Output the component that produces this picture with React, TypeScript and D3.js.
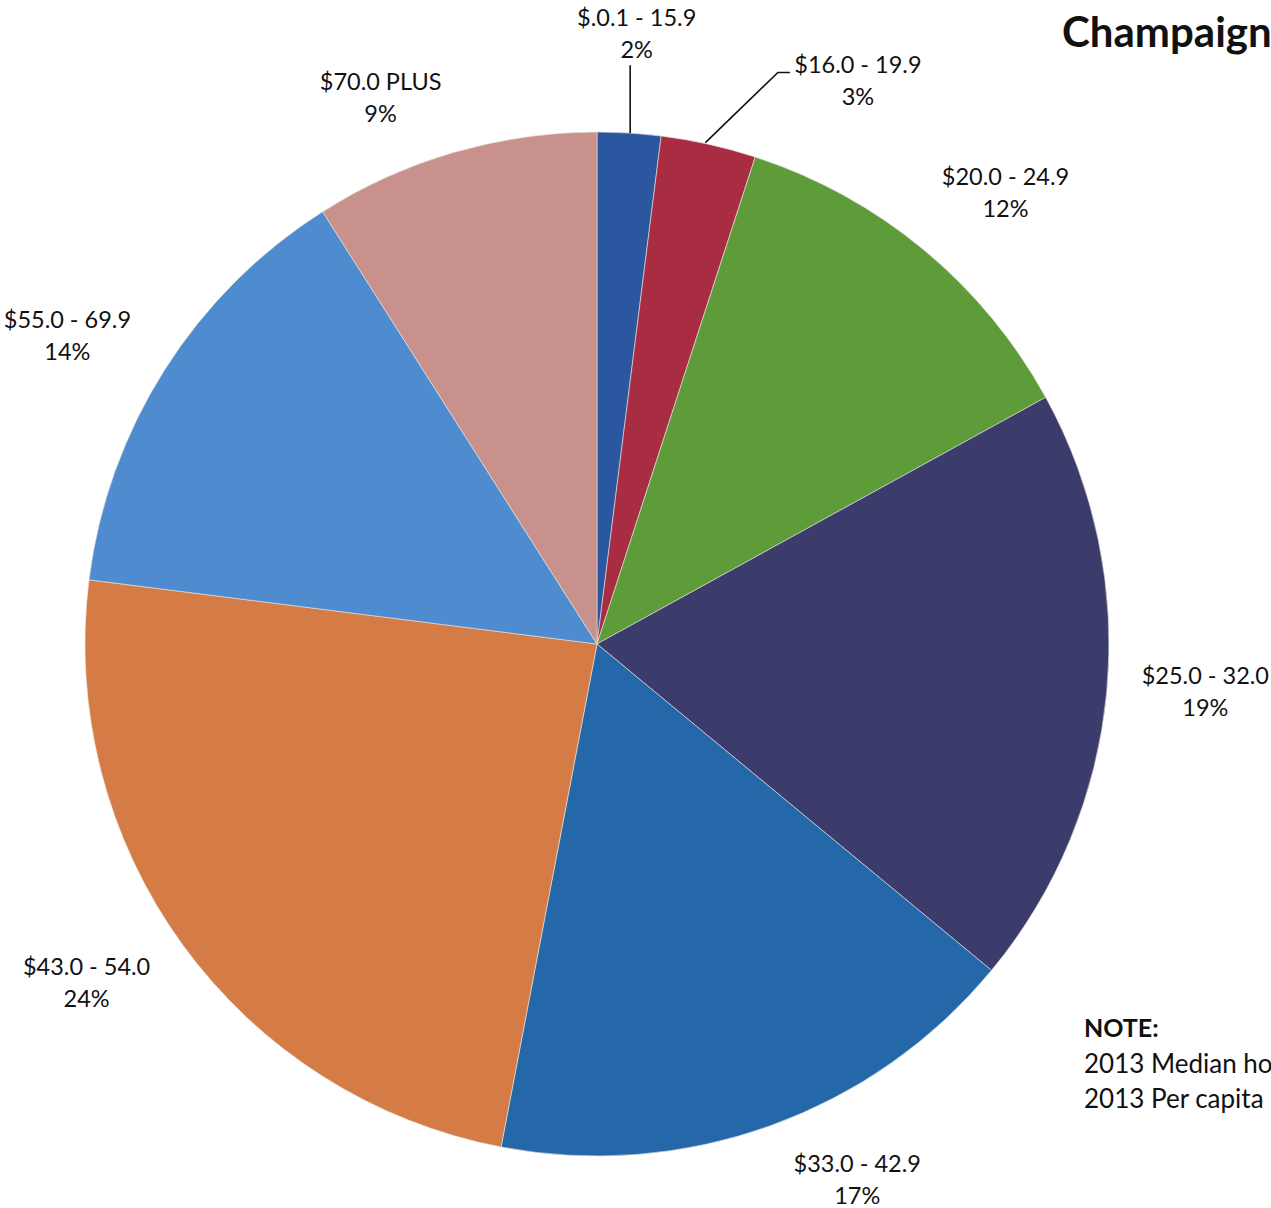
import React from "react";
import * as d3 from "d3";

const categories = [
  "$.0.1 - 15.9",
  "$16.0 - 19.9",
  "$20.0 - 24.9",
  "$25.0 - 32.0",
  "$33.0 - 42.9",
  "$43.0 - 54.0",
  "$55.0 - 69.9",
  "$70.0 PLUS",
];
const shares = [2, 3, 12, 19, 17, 24, 14, 9];
const sliceColors = [
  "#2B57A0",
  "#A82C42",
  "#5E9C3A",
  "#3B3C6C",
  "#2468AA",
  "#D57B45",
  "#4F8CCF",
  "#C9918B",
];
const titleText = "Champaign County Household Income";
const noteHeader = "NOTE:";
const noteLines = [
  "2013 Median household income: $52,099",
  "2013 Per capita income: $27,000",
];

// layout (label nudges relative to polar anchor)
const W = 1271;
const H = 1208;
const CX = 597;
const CY = 644;
const R = 512;
const LABEL_R = 600;
const labelNudge: [number, number][] = [
  [2, -19],
  [130, 15],
  [26, 3],
  [11, -16],
  [57, -37],
  [-25, -22],
  [-23, 5],
  [-49, 22],
];

const FONT = "Lato, 'Open Sans', sans-serif";

export default function App() {
  const data = categories.map((c, i) => ({ label: c, value: shares[i], color: sliceColors[i] }));
  const pie = d3.pie<any>().value((d) => d.value).sort(null);
  const arcs = pie(data);
  const arc = d3.arc<any>().innerRadius(0).outerRadius(R);

  const polar = (a: number, r: number): [number, number] => [Math.sin(a) * r, -Math.cos(a) * r];

  return (
    <svg
      width={W}
      height={H}
      viewBox={`0 0 ${W} ${H}`}
      style={{ position: "absolute", left: 0, top: 0, background: "#fff" }}
    >
      <rect width={W} height={H} fill="#fff" />
      <g transform={`translate(${CX},${CY})`}>
        {arcs.map((a, i) => (
          <path key={i} d={arc(a) as string} fill={a.data.color} stroke="#e8e4e0" strokeWidth={1} strokeOpacity={0.6} />
        ))}
      </g>
      {arcs.map((a, i) => {
        const mid = (a.startAngle + a.endAngle) / 2;
        const [px, py] = polar(mid, LABEL_R);
        const x = CX + px + labelNudge[i][0];
        const y = CY + py + labelNudge[i][1];
        const pct = `${Math.round(a.data.value)}%`;
        let leader: React.ReactNode = null;
        if (i === 0) {
          const [ex, ey] = polar(mid + 0.002, R);
          leader = (
            <line x1={CX + ex} y1={CY + ey} x2={CX + ex} y2={y + 39} stroke="#111" strokeWidth={1.6} />
          );
        } else if (i === 1) {
          const [ex, ey] = polar(mid - 0.007, R + 1);
          leader = (
            <polyline
              points={`${CX + ex},${CY + ey} ${x - 80},${y - 1} ${x - 68},${y - 1}`}
              fill="none"
              stroke="#111"
              strokeWidth={1.6}
            />
          );
        }
        return (
          <g key={i}>
            {leader}
            <text x={x} y={y} textAnchor="middle" fontFamily={FONT} fontSize={23.5} fill="#111">
              {a.data.label}
            </text>
            <text x={x} y={y + 32} textAnchor="middle" fontFamily={FONT} fontSize={23.5} fill="#111">
              {pct}
            </text>
          </g>
        );
      })}
      <text x={1062} y={47} fontFamily={FONT} fontWeight={700} fontSize={42} fill="#111">
        {titleText}
      </text>
      <text x={1084} y={1037} fontFamily={FONT} fontWeight={700} fontSize={25} fill="#111">
        {noteHeader}
      </text>
      {noteLines.map((t, i) => (
        <text key={i} x={1084} y={1073 + i * 35} fontFamily={FONT} fontSize={26} fill="#111">
          {t}
        </text>
      ))}
    </svg>
  );
}
